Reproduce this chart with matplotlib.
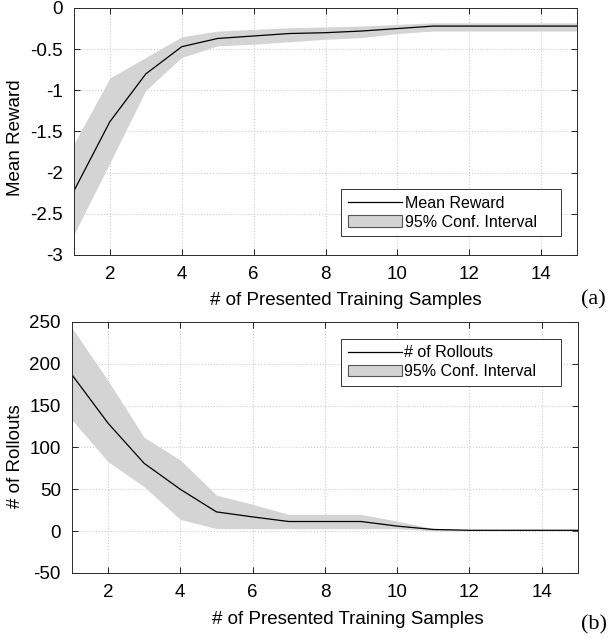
import numpy as np
import matplotlib
matplotlib.use('Agg')
import matplotlib.pyplot as plt

plt.rcParams['font.family'] = ['Liberation Sans', 'DejaVu Sans']
plt.rcParams['axes.unicode_minus'] = False

samples = [1, 2, 3, 4, 5, 6, 7, 8, 9, 10, 11, 12, 13, 14, 15]

# (a) mittlere Belohnung
reward_mean = [-2.22, -1.38, -0.80, -0.47, -0.37, -0.34, -0.31, -0.30, -0.28, -0.25, -0.22, -0.22, -0.22, -0.22, -0.22]
reward_low = [-2.75, -1.88, -1.00, -0.60, -0.46, -0.44, -0.41, -0.38, -0.36, -0.31, -0.28, -0.28, -0.28, -0.28, -0.28]
reward_high = [-1.65, -0.85, -0.60, -0.35, -0.28, -0.26, -0.24, -0.23, -0.22, -0.20, -0.18, -0.18, -0.18, -0.18, -0.18]

# (b) Anzahl Rollouts
rollouts_mean = [187, 129, 81, 50, 23, 17, 11.5, 11.5, 11.5, 6, 2, 1, 1, 1, 1]
rollouts_low = [133, 83, 53, 14, 3, 3, 3, 3, 3, 3, 0.5, 0.5, 0.5, 0.5, 0.5]
rollouts_high = [243, 180, 112, 85, 43, 32, 20, 20, 20, 12, 3, 2, 2, 2, 2]

band_color = '#d4d4d4'
fs = 13.5

fig = plt.figure(figsize=(6.09, 6.39), dpi=100)
ax1 = fig.add_axes([0.1215, 0.601, 0.826, 0.3865])
ax2 = fig.add_axes([0.118, 0.1033, 0.831, 0.393])


def style_axes(ax):
    ax.grid(True, linestyle=':', color='#cccccc', linewidth=0.8)
    ax.set_axisbelow(True)
    ax.tick_params(direction='in', top=True, right=True, labelsize=fs, length=4, width=0.6, pad=8)
    for s in ax.spines.values():
        s.set_linewidth(0.7)
        s.set_color('#2a2a2a')
    ax.set_xlim(1, 15)
    ax.set_xticks([2, 4, 6, 8, 10, 12, 14])
    ax.set_xlabel('# of Presented Training Samples', fontsize=fs)


def add_legend(ax, labels, loc, anchor):
    h_line = plt.Line2D([], [], color='black', linewidth=0.9)
    h_patch = matplotlib.patches.Patch(facecolor=band_color, edgecolor='#555555', linewidth=0.8)
    leg = ax.legend([h_line, h_patch], [l + '    ' for l in labels], loc=loc,
                    bbox_to_anchor=anchor, borderaxespad=0, fontsize=11.5, frameon=True,
                    fancybox=False, edgecolor='#333333', framealpha=1, handlelength=3.4,
                    borderpad=0.4, labelspacing=0.25, handletextpad=0.15)
    leg.get_frame().set_linewidth(0.7)


# Panel (a)
ax1.fill_between(samples, reward_low, reward_high, color=band_color, linewidth=0)
ax1.plot(samples, reward_mean, color='black', linewidth=0.9)
style_axes(ax1)
ax1.set_ylim(-3, 0)
ax1.set_yticks([-3, -2.5, -2, -1.5, -1, -0.5, 0])
ax1.set_yticklabels(['-3', '-2.5', '-2', '-1.5', '-1', '-0.5', '0'])
ax1.set_ylabel('Mean Reward', fontsize=fs)
ax1.xaxis.set_label_coords(0.54, -0.15)
ax1.yaxis.set_label_coords(-0.1, 0.475)
add_legend(ax1, ['Mean Reward', '95% Conf. Interval'], 'lower right', (0.968, 0.077))

# Panel (b)
ax2.fill_between(samples, rollouts_low, rollouts_high, color=band_color, linewidth=0)
ax2.plot(samples, rollouts_mean, color='black', linewidth=0.9)
style_axes(ax2)
ax2.set_ylim(-50, 250)
ax2.set_yticks([-50, 0, 50, 100, 150, 200, 250])
ax2.set_ylabel('# of Rollouts', fontsize=fs)
ax2.xaxis.set_label_coords(0.545, -0.15)
ax2.yaxis.set_label_coords(-0.095, 0.465)
add_legend(ax2, ['# of Rollouts', '95% Conf. Interval'], 'upper right', (0.966, 0.932))

fig.text(0.975, 1 - 300 / 639, '(a)', fontsize=16, family='Liberation Serif', ha='center', va='center')
fig.text(0.975, 1 - 625 / 639, '(b)', fontsize=16, family='Liberation Serif', ha='center', va='center')

fig.savefig('out.png', dpi=100)
